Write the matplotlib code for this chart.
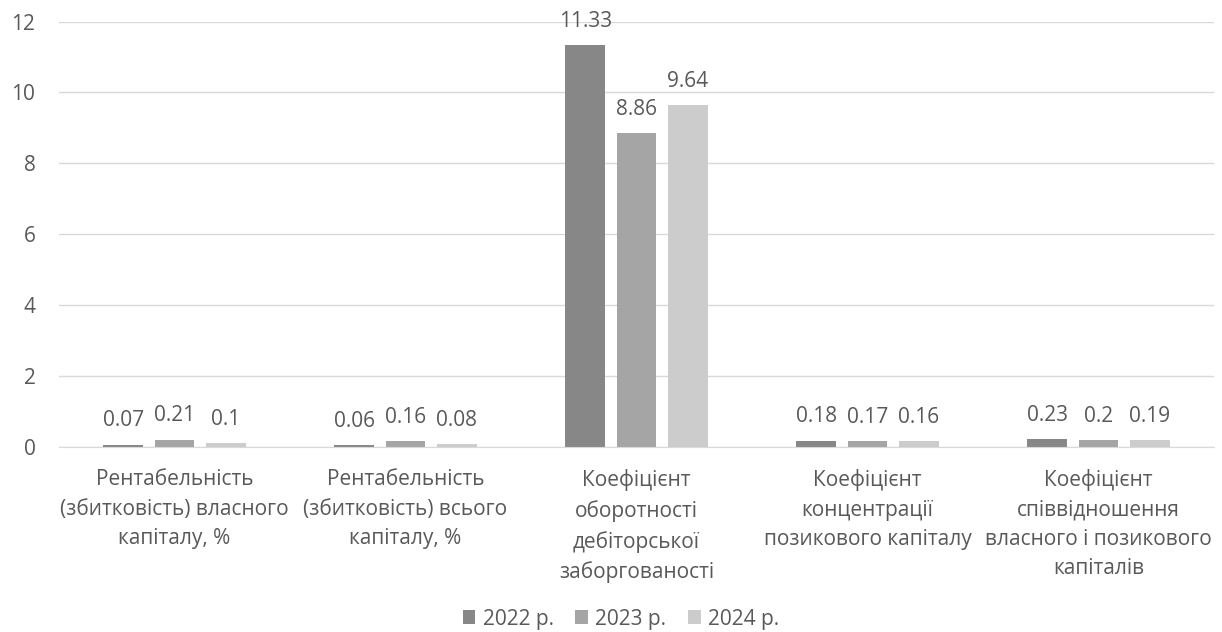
import numpy as np
import matplotlib.pyplot as plt

categories = [
    "Рентабельність\n(збитковість) власного\nкапіталу, %",
    "Рентабельність\n(збитковість) всього\nкапіталу, %",
    "Коефіцієнт\nоборотності\nдебіторської\nзаборгованості",
    "Коефіцієнт\nконцентрації\nпозикового капіталу",
    "Коефіцієнт\nспіввідношення\nвласного і позикового\nкапіталів",
]
years = ["2022 р.", "2023 р.", "2024 р."]
v2022 = [0.07, 0.06, 11.33, 0.18, 0.23]
v2023 = [0.21, 0.16, 8.86, 0.17, 0.2]
v2024 = [0.1, 0.08, 9.64, 0.16, 0.19]
yticks = [0, 2, 4, 6, 8, 10, 12]

plt.rcParams['font.family'] = ['Open Sans', 'DejaVu Sans']
text_c = '#595959'
colors = ['#878787', '#a5a5a5', '#cccccc']
fs = 15

fig = plt.figure(figsize=(12.22, 6.32), dpi=100)
ax = fig.add_axes([59 / 1222, 1 - 447 / 632, 1155 / 1222, 425.5 / 632])

x = np.arange(len(categories))
w = 0.173
step = 0.221
for i, (vals, lab) in enumerate(zip([v2022, v2023, v2024], years)):
    pos = x + (i - 1) * step
    ax.bar(pos, vals, width=w, color=colors[i], label=lab, zorder=3)
    for p, v in zip(pos, vals):
        ax.annotate(f"{v:g}", (p, v), xytext=(0, 9.5), textcoords='offset points',
                    ha='center', va='bottom', fontsize=fs, color=text_c)

ax.set_xlim(-0.5, len(categories) - 0.5)
ax.set_ylim(0, 12)
ax.set_yticks(yticks)
ax.set_yticklabels([str(t) for t in yticks], fontsize=fs, color=text_c)
ax.set_xticks(x)
ax.set_xticklabels(categories, fontsize=fs, color=text_c, linespacing=1.52, va='top')
ax.tick_params(axis='both', length=0)
ax.tick_params(axis='y', pad=17)
ax.tick_params(axis='x', pad=16)
ax.grid(axis='y', color='#d9d9d9', lw=1, zorder=0)
for s in ['top', 'right', 'left']:
    ax.spines[s].set_visible(False)
ax.spines['bottom'].set_color('#d9d9d9')
ax.spines['bottom'].set_zorder(4)

leg = fig.legend(loc='center', bbox_to_anchor=(621 / 1222, 1 - 619 / 632), ncol=3,
                 frameon=False, fontsize=fs, handlelength=0.62, handleheight=0.62,
                 handletextpad=0.34, columnspacing=1.05, borderpad=0)
for t in leg.get_texts():
    t.set_color(text_c)

fig.savefig('out.png', dpi=100)
